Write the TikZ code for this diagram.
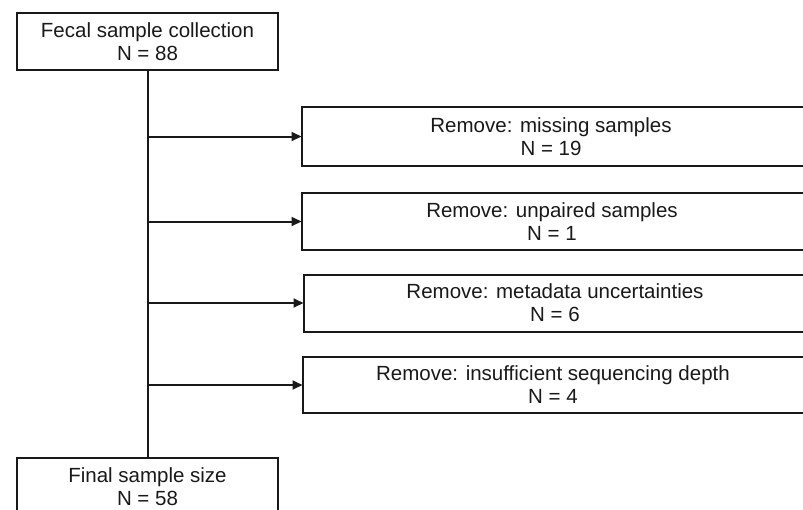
\documentclass[tikz,border=0pt]{standalone}
\usepackage{fontspec}
\setmainfont{Liberation Sans}
\usetikzlibrary{arrows.meta}
\begin{document}
\begin{tikzpicture}[x=1pt,y=-1pt,
  box/.style={draw=black!90, line width=2pt, align=center, inner sep=0pt,
    font=\fontsize{20.5}{23}\selectfont, text=black!90},
  arr/.style={line width=2pt, draw=black!90, -{Triangle[length=10pt,width=9pt]}, shorten >=-0.5pt},
  line/.style={line width=2pt, draw=black!90}]
\useasboundingbox (0,0) rectangle (803,509);
\clip (0,0) rectangle (803,509);
\node[box, minimum width=261pt, minimum height=57pt] (top) at (147.5,41.5) {Fecal sample collection\\N = 88};
\node[box, minimum width=261pt, minimum height=57pt] (bot) at (147.5,486.5) {Final sample size\\N = 58};
\node[box, minimum width=520pt, minimum height=59pt] (r1) at (562,136.5) {\hspace*{-22pt}Remove: missing samples\\\hspace*{-22pt}N = 19};
\node[box, minimum width=520pt, minimum height=57pt] (r2) at (562,221.5) {\hspace*{-20pt}Remove: unpaired samples\\\hspace*{-20pt}N = 1};
\node[box, minimum width=516pt, minimum height=57pt] (r3) at (562,303) {\hspace*{-14pt}Remove: metadata uncertainties\\\hspace*{-14pt}N = 6};
\node[box, minimum width=518pt, minimum height=56pt] (r4) at (562,385) {\hspace*{-18pt}Remove: insufficient sequencing depth\\\hspace*{-18pt}N = 4};
\draw[line] (top) -- (bot);
\draw[arr] (top.south |- r1.west) -- (r1.west);
\draw[arr] (top.south |- r2.west) -- (r2.west);
\draw[arr] (top.south |- r3.west) -- (r3.west);
\draw[arr] (top.south |- r4.west) -- (r4.west);
\end{tikzpicture}
\end{document}
